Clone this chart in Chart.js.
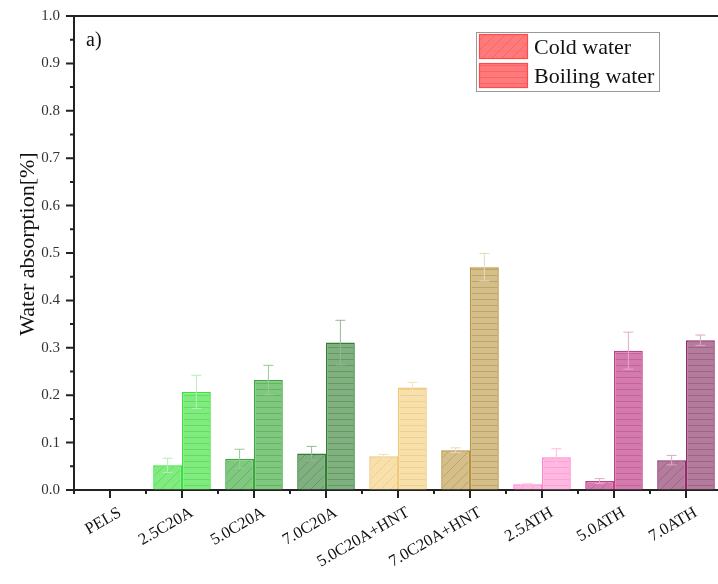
<!DOCTYPE html>
<html><head><meta charset="utf-8">
<script src="https://cdn.jsdelivr.net/npm/chart.js@4.4.1/dist/chart.umd.min.js"></script>
<style>html,body{margin:0;padding:0;overflow:hidden;background:#fff}#wrap{position:relative;width:724px;height:584px}</style>
</head><body><div id="wrap"><canvas id="c"></canvas></div>
<script>
const categories = ['PELS','2.5C20A','5.0C20A','7.0C20A','5.0C20A+HNT','7.0C20A+HNT','2.5ATH','5.0ATH','7.0ATH'];
const coldWater    = [0, 0.052, 0.066, 0.077, 0.071, 0.084, 0.012, 0.019, 0.063];
const coldError    = [0, 0.015, 0.020, 0.015, 0.004, 0.005, 0.001, 0.005, 0.010];
const boilingWater = [0, 0.207, 0.232, 0.311, 0.216, 0.470, 0.069, 0.294, 0.316];
const boilingError = [0, 0.035, 0.031, 0.047, 0.011, 0.029, 0.018, 0.039, 0.011];
const seriesNames  = ['Cold water', 'Boiling water'];
const yTickValues  = [0, 0.1, 0.2, 0.3, 0.4, 0.5, 0.6, 0.7, 0.8, 0.9, 1.0];
const yTitle = 'Water absorption[%]';
const panelLabel = 'a)';

// styles
const fillColors   = ['rgba(0,0,0,0)','#80ec80','#80c880','#80b080','#f8e0aa','#d4be8a','#ffb8e2','#d47aae','#b47c9c'];
const borderColors = ['rgba(0,0,0,0)','#3ee03e','#3aa83a','#2f7f2f','#f0c878','#b8923e','#ff88cc','#c0408a','#902c68'];
const hatchColors  = ['rgba(0,0,0,0)','#5cd85c','#5aae5a','#5a945a','#eccc8c','#bc9c5c','#ff9ad4','#c05c98','#9c5c80'];
const errorColors  = ['rgba(0,0,0,0)','#b4f0b4','#98cc98','#94b894','#f2e2bc','#e6dabc','#ffbce0','#e4aacc','#d6aac6'];
const legendFill = '#ff7a7a', legendBorder = '#ff4a4a', legendHatch = '#ff5c5c';
const FONT = '"Liberation Serif", "Times New Roman", serif';
const AXIS = '#222';

const canvas = document.getElementById('c');
const mainCtx = canvas.getContext('2d');
function makePattern(fill, line, kind){
  const size = kind === 'diag' ? 10 : 6;
  const c = document.createElement('canvas'); c.width = size; c.height = size;
  const g = c.getContext('2d');
  g.fillStyle = fill; g.fillRect(0,0,size,size);
  g.strokeStyle = line; g.lineWidth = 0.8;
  g.beginPath();
  if (kind === 'diag') {
    g.moveTo(0,size); g.lineTo(size,0);
    g.moveTo(-2,2); g.lineTo(2,-2);
    g.moveTo(size-2,size+2); g.lineTo(size+2,size-2);
  } else {
    g.moveTo(0,size-0.5); g.lineTo(size,size-0.5);
  }
  g.stroke();
  return mainCtx.createPattern(c,'repeat');
}
const coldBg = fillColors.map((f,i)=> i===0 ? f : makePattern(f, hatchColors[i], 'diag'));
const boilBg = fillColors.map((f,i)=> i===0 ? f : makePattern(f, hatchColors[i], 'horiz'));

const errorPlugin = {
  id: 'errorBars',
  afterDatasetsDraw(chart){
    const ctx = chart.ctx, ys = chart.scales.y;
    const sets = [[coldWater, coldError], [boilingWater, boilingError]];
    sets.forEach(([vals, errs], di) => {
      const meta = chart.getDatasetMeta(di);
      meta.data.forEach((bar, i) => {
        if (!errs[i]) return;
        const x = bar.x;
        const t = ys.getPixelForValue(vals[i] + errs[i]);
        const b = ys.getPixelForValue(vals[i] - errs[i]);
        ctx.save();
        ctx.strokeStyle = errorColors[i]; ctx.lineWidth = 1;
        ctx.beginPath();
        ctx.moveTo(x, t); ctx.lineTo(x, b);
        ctx.moveTo(x-5, t); ctx.lineTo(x+5, t);
        ctx.moveTo(x-5, b); ctx.lineTo(x+5, b);
        ctx.stroke();
        ctx.restore();
      });
    });
  }
};

const framePlugin = {
  id: 'frame',
  afterDraw(chart){
    const ctx = chart.ctx, a = chart.chartArea, xs = chart.scales.x, ys = chart.scales.y;
    ctx.save();
    ctx.strokeStyle = AXIS; ctx.lineWidth = 2;
    // top frame line
    ctx.beginPath(); ctx.moveTo(a.left-1, a.top); ctx.lineTo(a.right+2, a.top); ctx.stroke();
    // y ticks
    ctx.beginPath();
    yTickValues.forEach((v, k) => {
      const y = ys.getPixelForValue(v);
      ctx.moveTo(a.left-8, y); ctx.lineTo(a.left, y);
      if (k < yTickValues.length-1) {
        const ym = ys.getPixelForValue(v + 0.05);
        ctx.moveTo(a.left-4, ym); ctx.lineTo(a.left, ym);
      }
    });
    ctx.moveTo(a.left, ys.getPixelForValue(0)); ctx.lineTo(a.left+4, ys.getPixelForValue(0));
    // x ticks
    categories.forEach((c, i) => {
      const x = xs.getPixelForValue(i);
      ctx.moveTo(x, a.bottom); ctx.lineTo(x, a.bottom+8);
      const xb = x - xs.width/categories.length/2;
      ctx.moveTo(xb, a.bottom); ctx.lineTo(xb, a.bottom+4);
    });
    ctx.stroke();
    // y axis title
    ctx.save();
    ctx.translate(28, 244); ctx.rotate(-Math.PI/2);
    ctx.fillStyle = '#111'; ctx.font = '22px ' + FONT; ctx.textAlign = 'center'; ctx.textBaseline = 'middle';
    ctx.fillText(yTitle, 0, 0);
    ctx.restore();
    // panel label
    ctx.fillStyle = '#111'; ctx.font = '20px ' + FONT; ctx.textBaseline = 'middle'; ctx.textAlign = 'left';
    ctx.fillText(panelLabel, 86, 41);
    // legend
    ctx.lineWidth = 1; ctx.strokeStyle = '#999';
    ctx.strokeRect(476.5, 32.5, 183, 59);
    const sw = [makePattern(legendFill, legendHatch, 'diag'), makePattern(legendFill, legendHatch, 'horiz')];
    [34, 63].forEach((yy, k) => {
      ctx.fillStyle = sw[k]; ctx.fillRect(479, yy, 49, 25);
      ctx.strokeStyle = legendBorder; ctx.lineWidth = 1.2; ctx.strokeRect(479.5, yy+0.5, 48, 24);
      ctx.fillStyle = '#111'; ctx.font = '22px ' + FONT; ctx.textBaseline = 'middle';
      ctx.fillText(seriesNames[k], 534, yy + 14);
    });
    ctx.restore();
  }
};

new Chart(canvas, {
  type: 'bar',
  data: {
    labels: categories,
    datasets: [
      { label: seriesNames[0], data: coldWater, backgroundColor: coldBg, borderColor: borderColors, borderWidth: 1.5, borderSkipped: 'bottom' },
      { label: seriesNames[1], data: boilingWater, backgroundColor: boilBg, borderColor: borderColors, borderWidth: 1.5, borderSkipped: 'bottom' }
    ]
  },
  options: {
    responsive: true, maintainAspectRatio: false, animation: false,
    layout: { padding: { left: 0, right: 2, top: 16, bottom: 0 } },
    datasets: { bar: { categoryPercentage: 0.8, barPercentage: 1.0 } },
    plugins: { legend: { display: false }, tooltip: { enabled: false } },
    scales: {
      x: {
        afterFit: s => { s.height = 94; },
        grid: { display: true, drawOnChartArea: false, color: 'rgba(0,0,0,0)', tickLength: 8 },
        border: { display: true, color: AXIS, width: 2 },
        ticks: { color: '#111', font: { family: FONT, size: 16.5 }, maxRotation: 30, minRotation: 30, autoSkip: false, labelOffset: 10, padding: 5 }
      },
      y: {
        min: 0, max: 1,
        afterFit: s => { s.width = 74; },
        grid: { display: true, drawOnChartArea: false, color: 'rgba(0,0,0,0)', tickLength: 8 },
        border: { display: true, color: AXIS, width: 2 },
        ticks: { stepSize: 0.1, color: '#333', font: { family: FONT, size: 15 }, padding: 6, callback: v => Number(v).toFixed(1) },
        title: { display: false }
      }
    }
  },
  plugins: [errorPlugin, framePlugin]
});
</script>
</body></html>
